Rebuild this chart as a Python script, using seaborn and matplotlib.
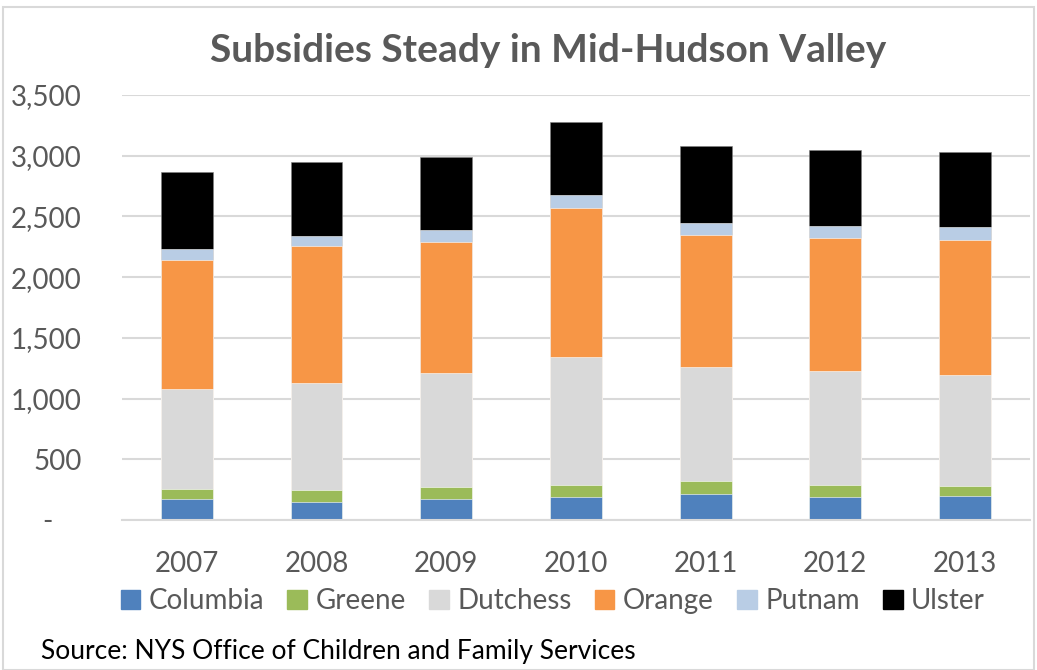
import pandas as pd
import matplotlib.pyplot as plt
import matplotlib.patches as mpatches
from matplotlib.ticker import FuncFormatter
import seaborn as sns

# values
years = ['2007', '2008', '2009', '2010', '2011', '2012', '2013']
columbia = [170, 151, 175, 192, 216, 186, 200]
greene = [88, 93, 99, 96, 105, 104, 82]
dutchess = [819, 885, 940, 1057, 937, 940, 915]
orange = [1065, 1131, 1074, 1222, 1087, 1091, 1107]
putnam = [91, 82, 98, 110, 102, 101, 107]
ulster = [630, 606, 600, 602, 630, 625, 616]

counties = ['Columbia', 'Greene', 'Dutchess', 'Orange', 'Putnam', 'Ulster']
colors = ['#4F81BD', '#9BBB59', '#D9D9D9', '#F79646', '#B9CDE5', '#000000']

data = pd.DataFrame({'Year': years, 'Columbia': columbia, 'Greene': greene,
                     'Dutchess': dutchess, 'Orange': orange,
                     'Putnam': putnam, 'Ulster': ulster})
# running totals so each county sits on the ones below it
cum = data[counties].cumsum(axis=1)
cum['Year'] = data['Year']

sns.set_theme(style='white')
plt.rcParams['font.family'] = ['Lato', 'DejaVu Sans']

fig = plt.figure(figsize=(10.37, 6.70), dpi=100)
ax = fig.add_axes([0.1176, 0.2239, 0.8755, 0.6343])

# draw tallest stack first, then cover with the lower ones
for county, col in reversed(list(zip(counties, colors))):
    edge = '#7F7F7F' if county == 'Ulster' else 'white'
    sns.barplot(data=cum, x='Year', y=county, color=col, width=0.4,
                saturation=1, edgecolor=edge, linewidth=0.4, ax=ax)

ax.set_ylim(0, 3500)
ax.set_xlim(-0.5, 6.5)
ax.set_yticks(range(0, 3501, 500))
ax.yaxis.set_major_formatter(FuncFormatter(lambda v, p: '-    ' if v == 0 else f'{int(v):,}'))
ax.grid(axis='y', color='#D9D9D9', linewidth=1.5)
ax.set_axisbelow(True)
for s in ['top', 'right', 'left']:
    ax.spines[s].set_visible(False)
ax.spines['bottom'].set_color('#D9D9D9')
ax.spines['bottom'].set_linewidth(1.5)
ax.tick_params(axis='y', length=0, pad=29, labelsize=20, labelcolor='#595959')
ax.tick_params(axis='x', length=0, pad=22, labelsize=20, labelcolor='#595959')
ax.set_xlabel('')
ax.set_ylabel('')

fig.text(0.529, 0.925, 'Subsidies Steady in Mid-Hudson Valley', ha='center', va='center',
         fontsize=28, fontweight='bold', color='#595959')

handles = [mpatches.Patch(color=c, label=n) for n, c in zip(counties, colors)]
fig.legend(handles=handles, loc='center', bbox_to_anchor=(0.533, 0.103), ncol=6,
           frameon=False, fontsize=20, handlelength=0.7, handleheight=0.7,
           handletextpad=0.3, columnspacing=0.85, labelcolor='#595959')

fig.text(0.04, 0.028, 'Source: NYS Office of Children and Family Services', ha='left',
         va='center', fontsize=19, color='black')

fig.patches.append(mpatches.Rectangle((0.003, 0.0), 0.994, 0.99, transform=fig.transFigure,
                                      fill=False, edgecolor='#D9D9D9', linewidth=1.5))

plt.savefig('out.png', dpi=100)
